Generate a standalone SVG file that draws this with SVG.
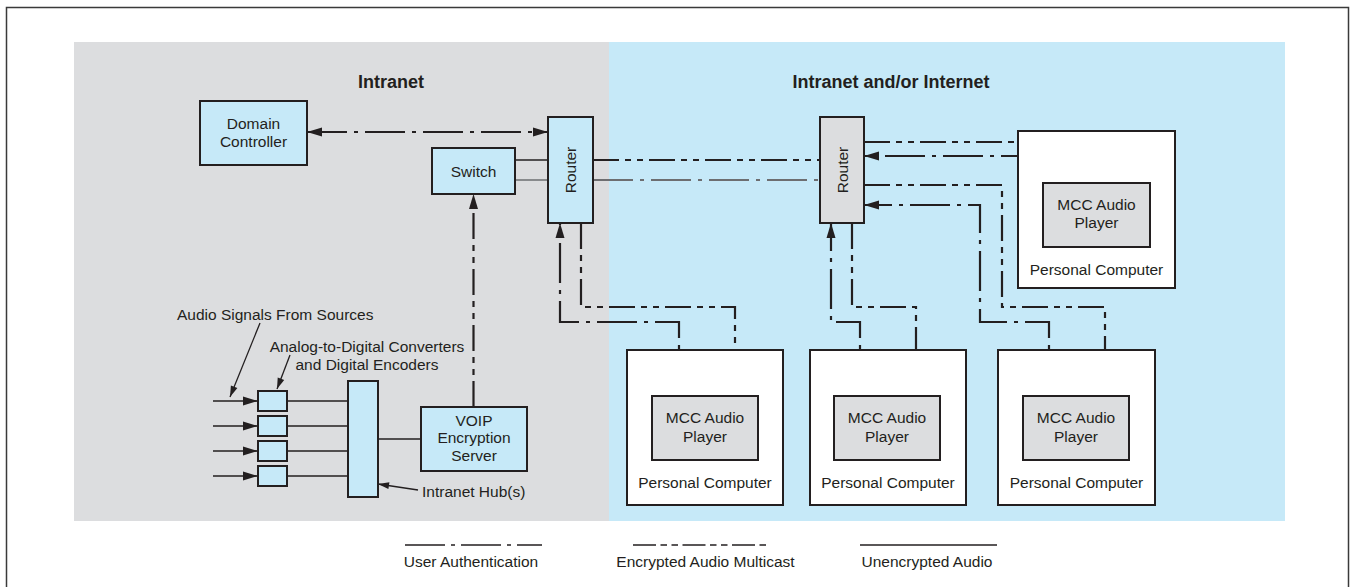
<svg xmlns="http://www.w3.org/2000/svg" width="1351" height="587" viewBox="0 0 1351 587">
<style>
text{font-family:"Liberation Sans",Arial,sans-serif;font-size:15.5px;fill:#231f20}
.h{font-weight:bold;font-size:18px}
.m{text-anchor:middle}
.box{fill:#c6e9f8;stroke:#231f20;stroke-width:2}
.gbox{fill:#dcdddf;stroke:#231f20;stroke-width:2}
.pc{fill:#ffffff;stroke:#231f20;stroke-width:2}
.ln{fill:none;stroke:#231f20;stroke-width:2.2}
.thin{fill:none;stroke:#231f20;stroke-width:1.3}
.gray{stroke:#6d6e71}
.auth{stroke-dasharray:40 7 4 7}
.enc{stroke-dasharray:26 6 6 6 6 6}
.ah{fill:#231f20;stroke:none}
</style>
<rect x="6.5" y="7.5" width="1342" height="600" fill="#ffffff" stroke="#3a3a3a" stroke-width="1.5"/>
<rect x="74" y="42" width="535" height="479" fill="#dcdddf"/>
<rect x="609" y="42" width="676" height="479" fill="#c6e9f8"/>
<text class="h m" x="391" y="88">Intranet</text>
<text class="h m" x="891" y="88">Intranet and/or Internet</text>

<g id="connectors">
<path class="ln auth" d="M307,132 H548"/>
<path class="thin" d="M515,160 H548"/>
<path class="thin gray" d="M515,180 H548"/>
<path class="ln enc" d="M593,160 H820"/>
<path class="ln gray auth" d="M593,180 H820"/>
<path class="ln enc" d="M473.5,407 V194"/>
<path class="ln auth" d="M679,396 V322 H560 V223"/>
<path class="ln enc" d="M581,223 V307 H735 V396"/>
<path class="ln auth" d="M860,396 V322 H831 V223"/>
<path class="ln enc" d="M852,223 V307 H916 V396"/>
<path class="ln auth" d="M1049,396 V322 H980 V205 H864"/>
<path class="ln enc" d="M864,185 H1002 V307 H1105 V396"/>
<path class="ln auth" d="M1072,183 V156 H864"/>
<path class="ln enc" d="M864,142 H1117 V183"/>
<path class="thin" d="M378,439 H421"/>
<path class="thin" d="M287,401 H348 M287,426 H348 M287,451 H348 M287,476 H348"/>
<path class="thin" d="M213,401 H258 M213,426 H258 M213,451 H258 M213,476 H258"/>
<path class="thin" d="M260,323 L230,397"/>
<path class="thin" d="M290,355 L277,389"/>
<path class="thin" d="M418,490 L378,484"/>
<g id="arrowheads">
<polygon class="ah" points="307,132 322,127.5 322,136.5"/>
<polygon class="ah" points="548,132 533,127.5 533,136.5"/>
<polygon class="ah" points="473.5,194 469,209 478,209"/>
<polygon class="ah" points="560,223 555.5,238 564.5,238"/>
<polygon class="ah" points="679,396 674.5,381 683.5,381"/>
<polygon class="ah" points="735,396 730.5,381 739.5,381"/>
<polygon class="ah" points="831,223 826.5,238 835.5,238"/>
<polygon class="ah" points="860,396 855.5,381 864.5,381"/>
<polygon class="ah" points="916,396 911.5,381 920.5,381"/>
<polygon class="ah" points="1049,396 1044.5,381 1053.5,381"/>
<polygon class="ah" points="1105,396 1100.5,381 1109.5,381"/>
<polygon class="ah" points="864,205 879,200.5 879,209.5"/>
<polygon class="ah" points="864,156 879,151.5 879,160.5"/>
<polygon class="ah" points="1072,183 1067.5,168 1076.5,168"/>
<polygon class="ah" points="1117,183 1112.5,168 1121.5,168"/>
<polygon class="ah" points="258,401 243,396.5 243,405.5"/>
<polygon class="ah" points="258,426 243,421.5 243,430.5"/>
<polygon class="ah" points="258,451 243,446.5 243,455.5"/>
<polygon class="ah" points="258,476 243,471.5 243,480.5"/>
<polygon class="ah" points="230,397 237.4,388.1 230.9,385.5"/>
<polygon class="ah" points="277,389 284.2,380 277.7,377.5"/>
<polygon class="ah" points="378,484 389.4,482.2 388.4,489.1"/>
</g>
</g>

<g id="domain-controller">
<rect class="box" x="200" y="101" width="107" height="64"/>
<text class="m" x="253.5" y="128.5">Domain</text>
<text class="m" x="253.5" y="147">Controller</text>
</g>
<g id="switch">
<rect class="box" x="432" y="148" width="83" height="46"/>
<text class="m" x="473.5" y="176.5">Switch</text>
</g>
<g id="router1">
<rect class="box" x="548" y="117" width="45" height="106"/>
<text class="m" transform="translate(570.5,170) rotate(-90)" y="5.5">Router</text>
</g>
<g id="router2">
<rect class="gbox" x="820" y="117" width="44" height="106"/>
<text class="m" transform="translate(842,170) rotate(-90)" y="5.5">Router</text>
</g>
<g id="encoders">
<rect class="box" x="258" y="391" width="29" height="20"/>
<rect class="box" x="258" y="416" width="29" height="20"/>
<rect class="box" x="258" y="441" width="29" height="20"/>
<rect class="box" x="258" y="466" width="29" height="20"/>
</g>
<g id="hub">
<rect class="box" x="348" y="381" width="30" height="116"/>
</g>
<g id="voip">
<rect class="box" x="421" y="407" width="106" height="64"/>
<text class="m" x="474" y="426">VOIP</text>
<text class="m" x="474" y="443">Encryption</text>
<text class="m" x="474" y="460.5">Server</text>
</g>
<g id="labels">
<text x="177" y="320">Audio Signals From Sources</text>
<text class="m" x="367" y="352">Analog-to-Digital Converters</text>
<text class="m" x="367" y="369.5">and Digital Encoders</text>
<text x="422" y="497">Intranet Hub(s)</text>
</g>
<g id="pc-top">
<rect class="pc" x="1018" y="131" width="157" height="157"/>
<rect class="gbox" x="1043" y="183" width="107" height="64"/>
<text class="m" x="1096.5" y="209.5">MCC Audio</text>
<text class="m" x="1096.5" y="228">Player</text>
<text class="m" x="1096.5" y="275">Personal Computer</text>
</g>
<g id="pc1">
<rect class="pc" x="627" y="350" width="156" height="155"/>
<rect class="gbox" x="652" y="396" width="106" height="64"/>
<text class="m" x="705" y="423">MCC Audio</text>
<text class="m" x="705" y="441.5">Player</text>
<text class="m" x="705" y="488">Personal Computer</text>
</g>
<g id="pc2">
<rect class="pc" x="810" y="350" width="156" height="155"/>
<rect class="gbox" x="834" y="396" width="106" height="64"/>
<text class="m" x="887" y="423">MCC Audio</text>
<text class="m" x="887" y="441.5">Player</text>
<text class="m" x="888" y="488">Personal Computer</text>
</g>
<g id="pc3">
<rect class="pc" x="998" y="350" width="157" height="155"/>
<rect class="gbox" x="1023" y="396" width="106" height="64"/>
<text class="m" x="1076" y="423">MCC Audio</text>
<text class="m" x="1076" y="441.5">Player</text>
<text class="m" x="1076.5" y="488">Personal Computer</text>
</g>
<g id="legend">
<path class="thin" stroke-dasharray="40 6 4 6" d="M405,545 H542"/>
<path class="thin" stroke-dasharray="23 4.5 6.5 4.5 6.5 4.5" d="M633,545 H769"/>
<path class="thin" d="M860,545 H997"/>
<text class="m" x="471" y="567">User Authentication</text>
<text class="m" x="705.5" y="567">Encrypted Audio Multicast</text>
<text class="m" x="927" y="567">Unencrypted Audio</text>
</g>
</svg>
